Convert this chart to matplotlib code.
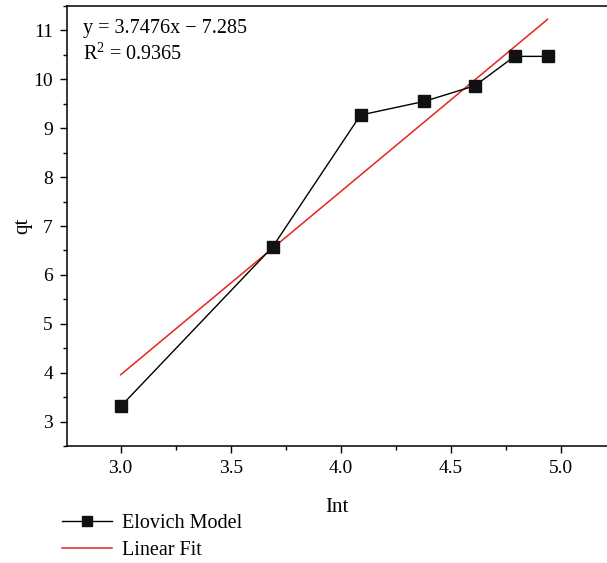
import numpy as np
import matplotlib
matplotlib.use("Agg")
import matplotlib.pyplot as plt
from matplotlib.ticker import MultipleLocator

plt.rcParams['font.family'] = ['Liberation Serif', 'DejaVu Serif']
plt.rcParams['mathtext.fontset'] = 'custom'
plt.rcParams['mathtext.rm'] = 'Liberation Serif'

lnt = [3.00, 3.69, 4.09, 4.38, 4.61, 4.79, 4.94]
qt = [3.31, 6.57, 9.27, 9.55, 9.87, 10.47, 10.47]
slope = 3.7476
intercept = -7.285
r2 = 0.9365

fig = plt.figure(figsize=(6.07, 5.63), dpi=100)
ax = fig.add_axes([0.110, 0.2078, 0.890, 0.7815])

fit_x = np.array([lnt[0], lnt[-1]])
fit_y = slope * fit_x + intercept
ax.plot(fit_x, fit_y, color='#e8231f', lw=1.1, label='Linear Fit', zorder=2)
ax.plot(lnt, qt, color='black', lw=1.0, marker='s', markersize=8,
        markerfacecolor='#111111', markeredgecolor='#111111', label='Elovich Model', zorder=3)

ax.set_xlim(2.755, 5.21)
ax.set_ylim(2.5, 11.5)
ax.xaxis.set_major_locator(MultipleLocator(0.5))
ax.xaxis.set_minor_locator(MultipleLocator(0.25))
ax.yaxis.set_major_locator(MultipleLocator(1))
ax.yaxis.set_minor_locator(MultipleLocator(0.5))
ax.xaxis.set_major_formatter(matplotlib.ticker.FormatStrFormatter('%.1f'))
ax.tick_params(which='major', direction='out', length=5, width=1, labelsize=14, pad=5)
ax.tick_params(which='minor', direction='out', length=3, width=1)
ax.spines['right'].set_visible(False)
for s in ['left', 'bottom', 'top']:
    ax.spines[s].set_linewidth(1.1)

ax.set_xlabel('Int', fontsize=15, labelpad=15)
ax.set_ylabel('qt', fontsize=15, labelpad=1)

ax.text(0.03, 0.948, 'y = %.4fx \u2212 %.3f' % (slope, -intercept), transform=ax.transAxes,
        fontsize=14.5, va='center', ha='left')
ax.text(0.03, 0.892, 'R$^2$ = %.4f' % r2, transform=ax.transAxes,
        fontsize=14.5, va='center', ha='left')

h, l = ax.get_legend_handles_labels()
leg = fig.legend(h[::-1], l[::-1], loc='upper left', bbox_to_anchor=(0.102, 0.087),
           frameon=False, fontsize=14.5, handlelength=2.5, handletextpad=0.5,
           labelspacing=0.4, borderaxespad=0, borderpad=0, markerscale=0.85)

fig.savefig('out.png', dpi=100)
